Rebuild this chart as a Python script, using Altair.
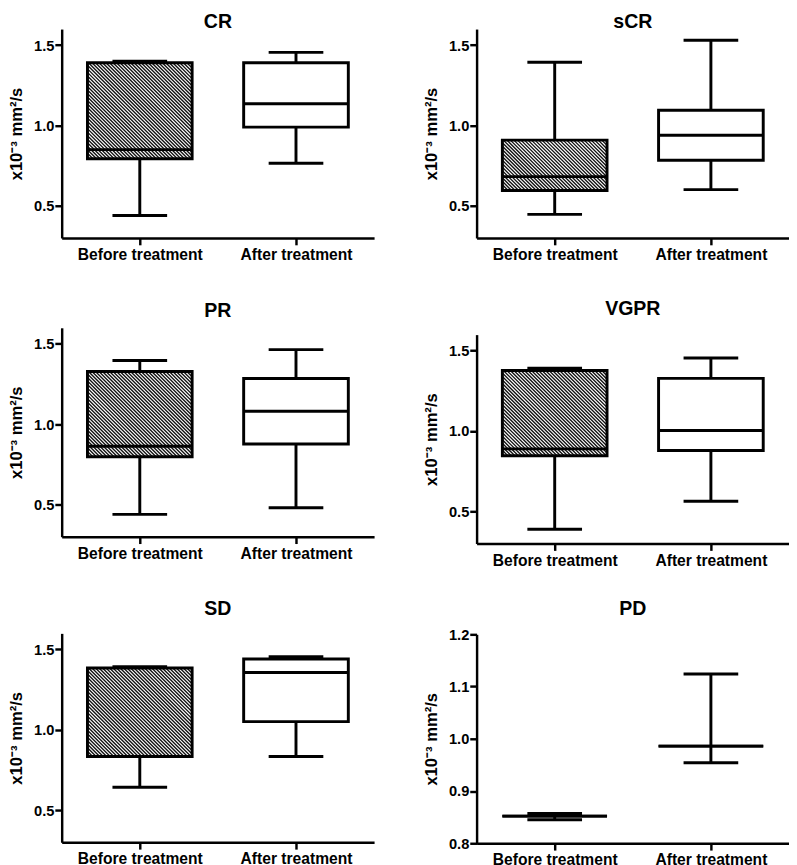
import altair as alt
import pandas as pd
import numpy as np

panels = ["CR", "sCR", "PR", "VGPR", "SD", "PD"]
groups = ["Before treatment", "After treatment"]

before_min = [0.440, 0.447, 0.439, 0.389, 0.642, 0.845]
before_q1 = [0.793, 0.595, 0.798, 0.846, 0.834, 0.852]
before_med = [0.850, 0.682, 0.863, 0.889, 0.834, 0.852]
before_q3 = [1.390, 0.909, 1.328, 1.377, 1.385, 0.852]
before_max = [1.400, 1.394, 1.397, 1.391, 1.393, 0.857]

after_min = [0.765, 0.601, 0.480, 0.563, 0.834, 0.954]
after_q1 = [0.990, 0.784, 0.877, 0.879, 1.051, 0.986]
after_med = [1.135, 0.939, 1.081, 1.004, 1.356, 0.986]
after_q3 = [1.390, 1.095, 1.284, 1.328, 1.440, 0.986]
after_max = [1.455, 1.530, 1.464, 1.455, 1.455, 1.124]

y_domains = [[0.3, 1.6]] * 5 + [[0.8, 1.2]]
y_ticks = [[0.5, 1.0, 1.5]] * 5 + [[0.8, 0.9, 1.0, 1.1, 1.2]]
title_offsets = [-3, -3, 7, 16, 15, 9]

W = 320
H = 214
BOX_HALF = 0.335
CAP_HALF = 0.175
FONT = "Liberation Sans"
Y_TITLE = "x10\u207b\u00b3 mm\u00b2/s"

label_expr = "datum.value < 1 ? '%s' : '%s'" % (groups[0], groups[1])


def hatch_rows(q1, q3, center, dom, spacing=3.6):
    pxu = W / 2.0
    pyu = H / (dom[1] - dom[0])
    w = 2 * BOX_HALF * pxu
    h = (q3 - q1) * pyu
    rows = []
    c = -w + spacing / 2.0
    while c < h:
        x1 = max(0.0, -c)
        x2 = min(w, h - c)
        if x2 > x1:
            rows.append({
                "hx": center - BOX_HALF + x1 / pxu,
                "hy": q3 - (x1 + c) / pyu,
                "hx2": center - BOX_HALF + x2 / pxu,
                "hy2": q3 - (x2 + c) / pyu,
            })
        c += spacing
    return pd.DataFrame(rows)


def panel(i):
    dom = y_domains[i]
    df = pd.DataFrame({
        "group": groups,
        "pos": [0.5, 1.5],
        "lo": [before_min[i], after_min[i]],
        "q1": [before_q1[i], after_q1[i]],
        "med": [before_med[i], after_med[i]],
        "q3": [before_q3[i], after_q3[i]],
        "hi": [before_max[i], after_max[i]],
    })
    xs = alt.Scale(domain=[0, 2], nice=False, zero=False)
    ys = alt.Scale(domain=dom, nice=False, zero=False)
    xax = alt.Axis(values=[0.5, 1.5], labelExpr=label_expr, title=None,
                   labelFontSize=16, labelPadding=2, labelFlush=False, labelOverlap=False)
    yax = alt.Axis(values=y_ticks[i], format=".1f", title=Y_TITLE,
                   labelFontSize=15, labelPadding=1, titleFontSize=17, titlePadding=8)

    base = alt.Chart(df).transform_calculate(
        xl="datum.pos - %f" % BOX_HALF,
        xr="datum.pos + %f" % BOX_HALF,
        cl="datum.pos - %f" % CAP_HALF,
        cr="datum.pos + %f" % CAP_HALF,
    )

    hd = hatch_rows(before_q1[i], before_q3[i], 0.5, dom)
    layers = []
    if len(hd):
        layers.append(alt.Chart(hd).mark_rule(color="#111111", strokeWidth=1.4).encode(
            x=alt.X("hx:Q", scale=xs, axis=xax),
            y=alt.Y("hy:Q", scale=ys, axis=yax),
            x2="hx2:Q", y2="hy2:Q"))
    # whiskers
    layers.append(base.mark_rule(color="black", strokeWidth=3).encode(
        x=alt.X("pos:Q", scale=xs, axis=xax),
        y=alt.Y("lo:Q", scale=ys, axis=yax), y2="q1:Q"))
    layers.append(base.mark_rule(color="black", strokeWidth=3).encode(
        x=alt.X("pos:Q", scale=xs, axis=xax),
        y=alt.Y("q3:Q", scale=ys, axis=yax), y2="hi:Q"))
    # caps
    layers.append(base.mark_rule(color="black", strokeWidth=3).encode(
        x=alt.X("cl:Q", scale=xs, axis=xax), x2="cr:Q",
        y=alt.Y("lo:Q", scale=ys, axis=yax)))
    layers.append(base.mark_rule(color="black", strokeWidth=3).encode(
        x=alt.X("cl:Q", scale=xs, axis=xax), x2="cr:Q",
        y=alt.Y("hi:Q", scale=ys, axis=yax)))
    # box
    layers.append(base.mark_rect(fillOpacity=0, stroke="black", strokeWidth=3).encode(
        x=alt.X("xl:Q", scale=xs, axis=xax), x2="xr:Q",
        y=alt.Y("q1:Q", scale=ys, axis=yax), y2="q3:Q"))
    # median
    layers.append(base.mark_rule(color="black", strokeWidth=3).encode(
        x=alt.X("xl:Q", scale=xs, axis=xax), x2="xr:Q",
        y=alt.Y("med:Q", scale=ys, axis=yax)))

    return alt.layer(*layers).properties(
        width=W, height=H,
        title=alt.TitleParams(panels[i], fontSize=20, font=FONT, fontWeight="bold",
                              color="black", anchor="middle", offset=title_offsets[i]),
    )


left_col = alt.vconcat(panel(0), alt.vconcat(panel(2), panel(4), spacing=39), spacing=40)
right_col = alt.vconcat(panel(1), alt.vconcat(panel(3), panel(5), spacing=32), spacing=38)

chart = alt.hconcat(left_col, right_col, spacing=50).properties(
    padding={"left": 0, "top": -6, "right": 0, "bottom": 0}
).configure_view(stroke=None).configure_axis(
    grid=False,
    domainColor="black", domainWidth=2.5,
    tickColor="black", tickWidth=2.5, tickSize=7,
    labelFont=FONT, labelFontWeight="bold", labelColor="black",
    titleFont=FONT, titleFontWeight="bold", titleColor="black",
)

chart.save("out.html", embed_options={"renderer": "svg", "actions": False})
